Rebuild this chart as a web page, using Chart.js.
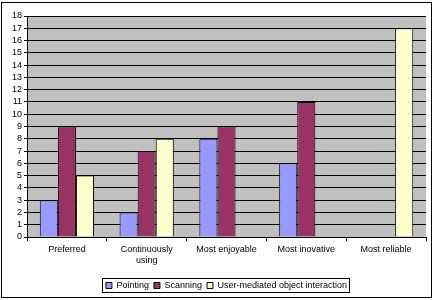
<!DOCTYPE html>
<html>
<head>
<meta charset="utf-8">
<script src="https://cdn.jsdelivr.net/npm/chart.js@4.4.0/dist/chart.umd.min.js"></script>
<style>
  body { margin: 0; background: #fff; }
  canvas { display: block; }
</style>
</head>
<body>
<canvas id="myChart" width="437" height="300"></canvas>
<script>
const categories = ['Preferred', ['Continuously', 'using'], 'Most enjoyable', 'Most inovative', 'Most reliable'];
const pointing = [3, 2, 8, 6, 0];
const scanning = [9, 7, 9, 11, 0];
const userMediated = [5, 8, 0, 0, 17];
const yTicks = [0, 18, 1]; // min, max, step

// gray plot area + outer frame + legend box, like the old excel look
const frame = {
  id: 'frame',
  beforeDraw(chart) {
    const c = chart.ctx, a = chart.chartArea;
    c.save();
    c.fillStyle = '#fff';
    c.fillRect(0, 0, chart.width, chart.height);
    c.fillStyle = '#C0C0C0';
    c.fillRect(a.left, a.top, a.right - a.left, a.bottom - a.top);
    c.restore();
  },
  afterDraw(chart) {
    const c = chart.ctx;
    c.save();
    c.strokeStyle = '#000';
    c.lineWidth = 1;
    c.strokeRect(1.5, 2.5, 430, 295);
    const boxes = chart.legend.legendHitBoxes;
    if (boxes && boxes.length) {
      let l = Math.min(...boxes.map(b => b.left));
      let r = Math.max(...boxes.map(b => b.left + b.width));
      let mid = Math.round(boxes[0].top + boxes[0].height / 2);
      c.strokeRect(Math.round(l) - 3.5, mid - 7.5, Math.round(r - l) + 6, 14);
    }
    c.restore();
  }
};

const ctx = document.getElementById('myChart');

new Chart(ctx, {
  type: 'bar',
  data: {
    labels: categories,
    datasets: [{
      label: 'Pointing',
      data: pointing,
      backgroundColor: '#9999FF',
      borderColor: '#000',
      borderWidth: 1
    }, {
      label: 'Scanning',
      data: scanning,
      backgroundColor: '#993366',
      borderColor: '#000',
      borderWidth: 1
    }, {
      label: 'User-mediated object interaction',
      data: userMediated,
      backgroundColor: '#FFFFCC',
      borderColor: '#000',
      borderWidth: 1
    }]
  },
  options: {
    responsive: false,
    animation: false,
    datasets: { bar: { categoryPercentage: 0.68, barPercentage: 1 } },
    layout: { padding: { left: 0, right: 11, top: 16, bottom: 0 } },
    plugins: {
      tooltip: { enabled: false },
      legend: {
        position: 'bottom',
        fullSize: false,
        labels: {
          color: '#000',
          font: { family: 'Liberation Sans', size: 9 },
          boxWidth: 6,
          boxHeight: 6,
          padding: 5
        }
      }
    },
    scales: {
      x: {
        grid: { drawOnChartArea: false, drawTicks: true, tickLength: 4, color: '#000', offset: true },
        border: { color: '#000' },
        ticks: { color: '#000', font: { family: 'Liberation Sans', size: 9 }, maxRotation: 0, autoSkip: false, padding: 3 },
        afterFit(s) { s.height = 39; }
      },
      y: {
        min: yTicks[0],
        max: yTicks[1],
        grid: { color: '#000', tickLength: 3 },
        border: { color: '#000' },
        ticks: { stepSize: yTicks[2], autoSkip: false, color: '#000', font: { family: 'Liberation Sans', size: 9 }, padding: 2 },
        afterFit(s) { s.width = 27; }
      }
    }
  },
  plugins: [frame]
});
</script>
</body>
</html>
